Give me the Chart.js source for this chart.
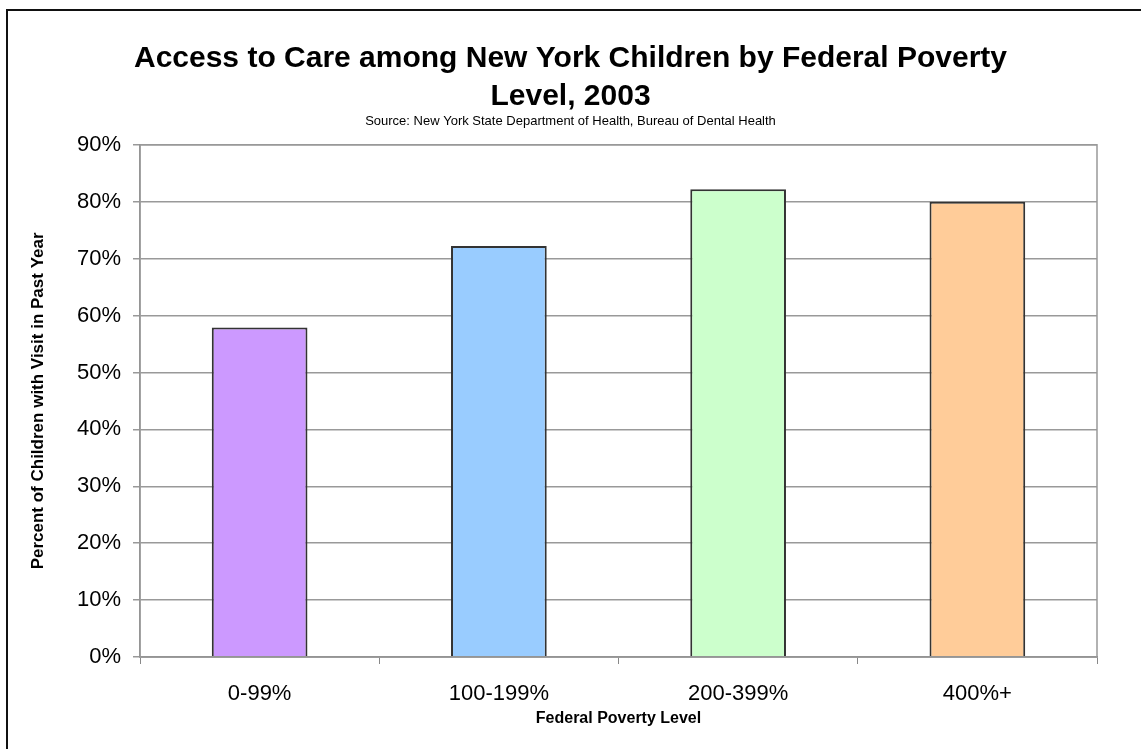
<!DOCTYPE html>
<html>
<head>
<meta charset="utf-8">
<script src="https://cdn.jsdelivr.net/npm/chart.js@4/dist/chart.umd.min.js"></script>
<style>
    html, body { margin: 0; padding: 0; background: #fff; }
    #wrap { position: relative; width: 1141px; height: 749px; overflow: hidden; }
    #frame { position: absolute; left: 6px; top: 9px; width: 1133px; height: 760px;
             border-left: 2px solid #111; border-top: 2px solid #111; border-right: 1px solid #999; }
    #povertyChart { position: absolute; left: 0; top: 0; }
</style>
</head>
<body>
<div id="wrap">
    <div id="frame"></div>
    <canvas id="povertyChart" width="1141" height="749"></canvas>
</div>
<script>
"use strict";
// Chart data
var povertyLevels = ["0-99%", "100-199%", "200-399%", "400%+"];
var visitPercent = [57.9, 72.2, 82.2, 80.0];
var barColors = ["#CC99FF", "#99CCFF", "#CCFFCC", "#FFCC99"];
var yTicks = [0, 10, 20, 30, 40, 50, 60, 70, 80, 90];

var fontFamily = "'Liberation Sans', Arial, sans-serif";
Chart.defaults.font.family = fontFamily;
Chart.defaults.color = "#000";

// ------------------------------------------------------- //
// Plot area frame
// ------------------------------------------------------ //
var plotFrame = {
    id: "plotFrame",
    afterDatasetsDraw: function (chart) {
        var a = chart.chartArea;
        var ctx = chart.ctx;
        ctx.save();
        ctx.strokeStyle = "#999";
        ctx.lineWidth = 1.5;
        ctx.strokeRect(a.left, a.top, a.right - a.left, a.bottom - a.top);
        ctx.restore();
    }
};

var CANVAS = document.getElementById("povertyChart");
var povertyChart = new Chart(CANVAS, {
    type: "bar",
    plugins: [plotFrame],
    data: {
        labels: povertyLevels,
        datasets: [
        {
            label: "Percent of Children with Visit in Past Year",
            data: visitPercent,
            backgroundColor: barColors,
            borderColor: "#333",
            borderWidth: 2,
            categoryPercentage: 1.0,
            barPercentage: 0.4,
        }
        ],
    },
    options: {
        responsive: false,
        animation: false,
        layout: {
            padding: { left: 0, right: 0, top: 0, bottom: 0 },
        },
        plugins: {
            legend: { display: false },
            tooltip: { enabled: false },
            title: {
                display: true,
                text: ["Access to Care among New York Children by Federal Poverty", "Level, 2003"],
                font: { size: 30, weight: "bold", lineHeight: 1.27 },
                color: "#000",
                padding: { top: 40, bottom: -3 },
            },
            subtitle: {
                display: true,
                text: "Source: New York State Department of Health, Bureau of Dental Health",
                font: { size: 13, lineHeight: 1.2 },
                color: "#000",
                padding: { top: 0, bottom: 16 },
            },
        },
        scales: {
            x: {
                afterFit: function (scale) {
                    scale.height = 92;
                },
                grid: {
                    offset: true,
                    drawOnChartArea: false,
                    drawTicks: true,
                    tickLength: 7,
                    color: "#888",
                },
                border: { color: "#888", width: 1.5 },
                ticks: { font: { size: 22 }, padding: 17, color: "#000" },
                title: {
                    display: true,
                    text: "Federal Poverty Level",
                    font: { size: 16, weight: "bold" },
                    padding: { top: 0, bottom: 21 },
                    color: "#000",
                },
            },
            y: {
                min: 0,
                max: 90,
                afterBuildTicks: function (scale) {
                    scale.ticks = yTicks.map(function (v) { return { value: v }; });
                },
                afterFit: function (scale) {
                    scale.width = 140;
                },
                grid: { color: "#999", lineWidth: 1.5, tickLength: 7 },
                border: { color: "#888", width: 1.5 },
                ticks: {
                    font: { size: 22 },
                    padding: 12,
                    color: "#000",
                    callback: function (v) { return v + "%"; },
                },
                title: {
                    display: true,
                    text: "Percent of Children with Visit in Past Year",
                    font: { size: 17, weight: "bold" },
                    padding: { top: 28, bottom: 0 },
                    color: "#000",
                },
            },
            // empty right-hand strip that keeps the plot clear of the frame
            yRight: {
                position: "right",
                display: true,
                afterFit: function (scale) {
                    scale.width = 44;
                },
                grid: { display: false },
                border: { display: false },
                ticks: { display: false },
            },
        },
    },
});
</script>
</body>
</html>
